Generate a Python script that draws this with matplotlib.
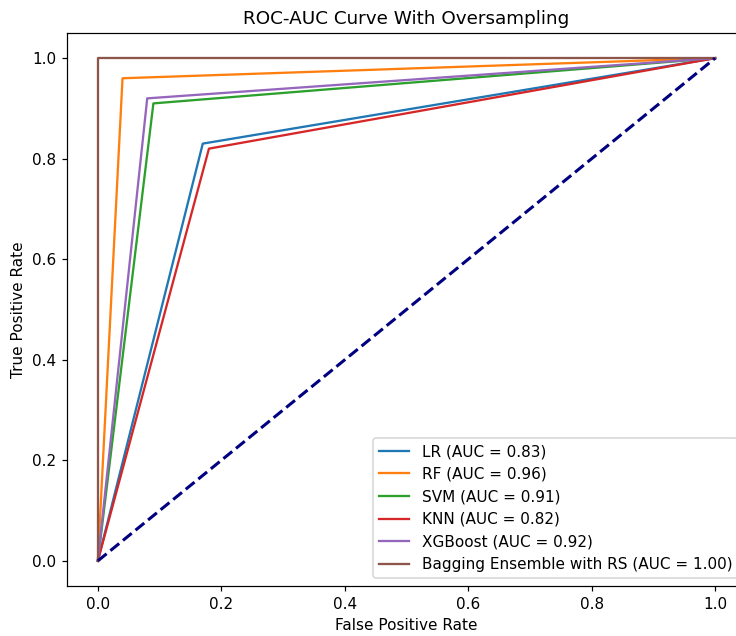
import matplotlib
matplotlib.use("Agg")
import matplotlib.pyplot as plt

# ROC operating points (FPR, TPR) for each model
models = ["LR", "RF", "SVM", "KNN", "XGBoost", "Bagging Ensemble with RS"]
fpr_mid = [0.17, 0.04, 0.09, 0.18, 0.08, 0.00]
tpr_mid = [0.83, 0.96, 0.91, 0.82, 0.92, 1.00]
auc_values = [0.83, 0.96, 0.91, 0.82, 0.92, 1.00]

DPI = 110
fig = plt.figure(figsize=(736 / DPI, 636 / DPI), dpi=DPI)
ax = fig.add_axes([0.091, 0.0786, 0.9226, 0.8695])

for name, fx, ty, auc in zip(models, fpr_mid, tpr_mid, auc_values):
    ax.plot([0, fx, 1], [0, ty, 1], label=f"{name} (AUC = {auc:.2f})")

ax.plot([0, 1], [0, 1], color="navy", lw=2, linestyle="--")

ax.set_xlabel("False Positive Rate")
ax.set_ylabel("True Positive Rate")
ax.set_title("ROC-AUC Curve With Oversampling")
ax.legend(loc="lower right")

fig.savefig("out.png", dpi=DPI)
